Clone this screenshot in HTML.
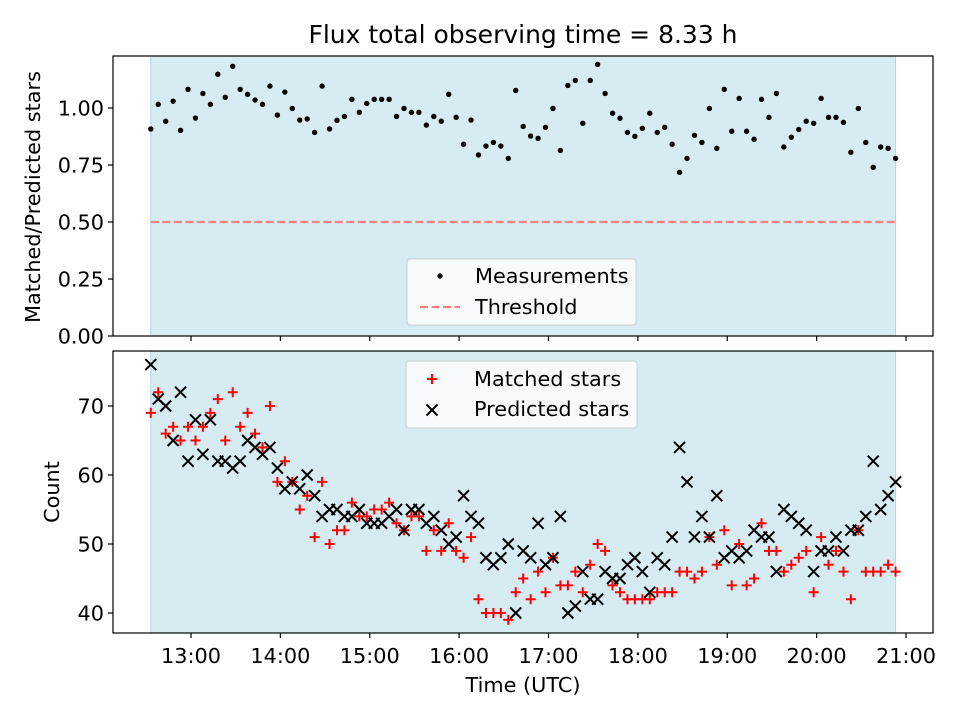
<!DOCTYPE html>
<html><head><meta charset="utf-8"><style>
body{margin:0;background:#fff}
svg text{font-family:"DejaVu Sans","Liberation Sans",sans-serif;fill:#000}
</style></head><body>
<svg id="chart" width="960" height="720" viewBox="0 0 960 720" xmlns="http://www.w3.org/2000/svg">
<text x="523" y="43" font-size="25" text-anchor="middle">Flux total observing time = 8.33 h</text>
<g id="top"></g><g id="bot"></g>
</svg>
<script>
const startHour = 12.55;
const stepMinutes = 5;
const ratioValues = [0.908,1.016,0.942,1.030,0.902,1.082,0.956,1.064,1.016,1.148,1.047,1.183,1.082,1.060,1.035,1.016,1.096,0.969,1.070,0.998,0.947,0.952,0.893,1.096,0.908,0.946,0.963,1.038,0.981,1.020,1.038,1.038,1.038,0.963,0.998,0.981,0.981,0.925,0.963,0.942,1.060,0.959,0.841,0.947,0.794,0.833,0.849,0.833,0.779,1.077,0.919,0.877,0.867,0.915,0.998,0.814,1.099,1.121,0.933,1.121,1.191,1.064,0.977,0.955,0.893,0.876,0.911,0.977,0.893,0.915,0.841,0.718,0.779,0.880,0.849,0.998,0.823,1.082,0.898,1.042,0.898,0.863,1.038,0.959,1.064,0.829,0.872,0.906,0.942,0.933,1.042,0.959,0.959,0.937,0.806,0.998,0.849,0.740,0.829,0.823,0.779];
const thresholdValue = 0.5;
const matchedValues = [69,72,66,67,65,67,65,67,69,71,65,72,67,69,66,64,70,59,62,59,55,57,51,59,50,52,52,56,54,54,55,55,56,53,52,54,54,49,52,49,53,49,48,51,42,40,40,40,39,43,45,42,46,43,48,44,44,46,43,47,50,49,44,43,42,42,42,42,43,43,43,46,46,45,46,51,47,52,44,50,44,45,53,49,49,46,47,48,49,43,51,47,49,46,42,52,46,46,46,47,46];
const predictedValues = [76,71,70,65,72,62,68,63,68,62,62,61,62,65,64,63,64,61,58,59,58,60,57,54,55,55,54,54,55,53,53,53,54,55,52,55,55,53,54,52,50,51,57,54,53,48,47,48,50,40,49,48,53,47,48,54,40,41,46,42,42,46,45,45,47,48,46,43,48,47,51,64,59,51,54,51,57,48,49,48,49,52,51,51,46,55,54,53,52,46,49,49,51,49,52,52,54,62,55,57,59];
const topTicks = [0,0.25,0.5,0.75,1.0];
const topTickLabels = ["0.00","0.25","0.50","0.75","1.00"];
const botTicks = [40,50,60,70];
const xTicks = [13,14,15,16,17,18,19,20,21];
const xTickLabels = ["13:00","14:00","15:00","16:00","17:00","18:00","19:00","20:00","21:00"];

const NS="http://www.w3.org/2000/svg";
const L=113,R=933;
const FS=20.8;
const xS=t=>191+(t-13)*89.375;
const yTop=v=>336-228*v;
const yBot=v=>613-(v-40)*6.9;
function mk(p,tag,a,txt){const e=document.createElementNS(NS,tag);for(const k in a)e.setAttribute(k,a[k]);if(txt!==undefined)e.textContent=txt;p.appendChild(e);return e;}
const times=ratioValues.map((_,i)=>startHour+i*stepMinutes/60);
const tStart=times[0], tEnd=times[times.length-1];

function panel(g,y0,y1,name){
  let s=mk(g,'rect',{x:xS(tStart),y:y0,width:xS(tEnd)-xS(tStart),height:y1-y0,fill:'#add8e6','fill-opacity':0.5,stroke:'#add8e6'});
  
  
  xTicks.forEach((t,i)=>{const l=mk(g,'line',{x1:xS(t),x2:xS(t),y1:y1,y2:y1+5,stroke:'#000','stroke-width':1.2});
    
    });
}
function frame(g,y0,y1,name){
  const f=mk(g,'rect',{x:L,y:y0,width:R-L,height:y1-y0,fill:'none',stroke:'#000','stroke-width':1.2});
  
  
}
// TOP
const gt=document.getElementById('top');
panel(gt,56,336,'top');
topTicks.forEach((v,i)=>{const y=yTop(v);mk(gt,'line',{x1:L-5,x2:L,y1:y,y2:y,stroke:'#000','stroke-width':1.2});
  const t=mk(gt,'text',{x:L-9,y:y+7.5,'font-size':FS,'text-anchor':'end'},topTickLabels[i]);
  
  });
const th=mk(gt,'line',{x1:xS(tStart),x2:xS(tEnd),y1:yTop(thresholdValue),y2:yTop(thresholdValue),stroke:'#ff7f7f','stroke-width':2.2,'stroke-dasharray':'8,3.5'});


ratioValues.forEach((v,i)=>{const c=mk(gt,'circle',{cx:xS(times[i]),cy:yTop(v),r:2.7,fill:'#000'});
  
  });
frame(gt,56,336,'top');
const yl1=mk(gt,'text',{x:0,y:0,'font-size':FS,'text-anchor':'middle',transform:'translate(40,197) rotate(-90)'},'Matched/Predicted stars');


// legend top
const lg1=mk(gt,'g',{});


mk(lg1,'rect',{x:407,y:259,width:229,height:66,rx:3,fill:'#fff','fill-opacity':0.8,stroke:'#ccc'});
mk(lg1,'circle',{cx:440,cy:276,r:2.7,fill:'#000'});
mk(lg1,'text',{x:475,y:283,'font-size':FS},'Measurements');
mk(lg1,'line',{x1:420,x2:460,y1:307,y2:307,stroke:'#ff7f7f','stroke-width':2.2,'stroke-dasharray':'8,3.5'});
mk(lg1,'text',{x:475,y:314,'font-size':FS},'Threshold');

// BOTTOM
const gb=document.getElementById('bot');
panel(gb,351,633,'bottom');
botTicks.forEach(v=>{const y=yBot(v);mk(gb,'line',{x1:L-5,x2:L,y1:y,y2:y,stroke:'#000','stroke-width':1.2});
  const t=mk(gb,'text',{x:L-9,y:y+7.5,'font-size':FS,'text-anchor':'end'},String(v));
  
  });
function plus(p,x,y){const g=mk(p,'path',{d:`M${x-5},${y}H${x+5}M${x},${y-5}V${y+5}`,stroke:'#ff0000','stroke-width':2,fill:'none'});return g;}
function cross(p,x,y){return mk(p,'path',{d:`M${x-5.5},${y-5.5}L${x+5.5},${y+5.5}M${x-5.5},${y+5.5}L${x+5.5},${y-5.5}`,stroke:'#000','stroke-width':2,fill:'none'});}
matchedValues.forEach((v,i)=>{const m=plus(gb,xS(times[i]),yBot(v));
  
  });
predictedValues.forEach((v,i)=>{const m=cross(gb,xS(times[i]),yBot(v));
  
  });
frame(gb,351,633,'bottom');
xTicks.forEach((t,i)=>{const tx=mk(gb,'text',{x:xS(t),y:663,'font-size':FS,'text-anchor':'middle'},xTickLabels[i]);
  
  });
const xl=mk(gb,'text',{x:523,y:692,'font-size':FS,'text-anchor':'middle'},'Time (UTC)');


const yl2=mk(gb,'text',{x:0,y:0,'font-size':FS,'text-anchor':'middle',transform:'translate(59,492) rotate(-90)'},'Count');


const lg2=mk(gb,'g',{});


mk(lg2,'rect',{x:406,y:361,width:231,height:67,rx:3,fill:'#fff','fill-opacity':0.8,stroke:'#ccc'});
plus(lg2,432,379);
mk(lg2,'text',{x:474,y:386,'font-size':FS},'Matched stars');
cross(lg2,432,410);
mk(lg2,'text',{x:474,y:416,'font-size':FS},'Predicted stars');
</script>
</body></html>
